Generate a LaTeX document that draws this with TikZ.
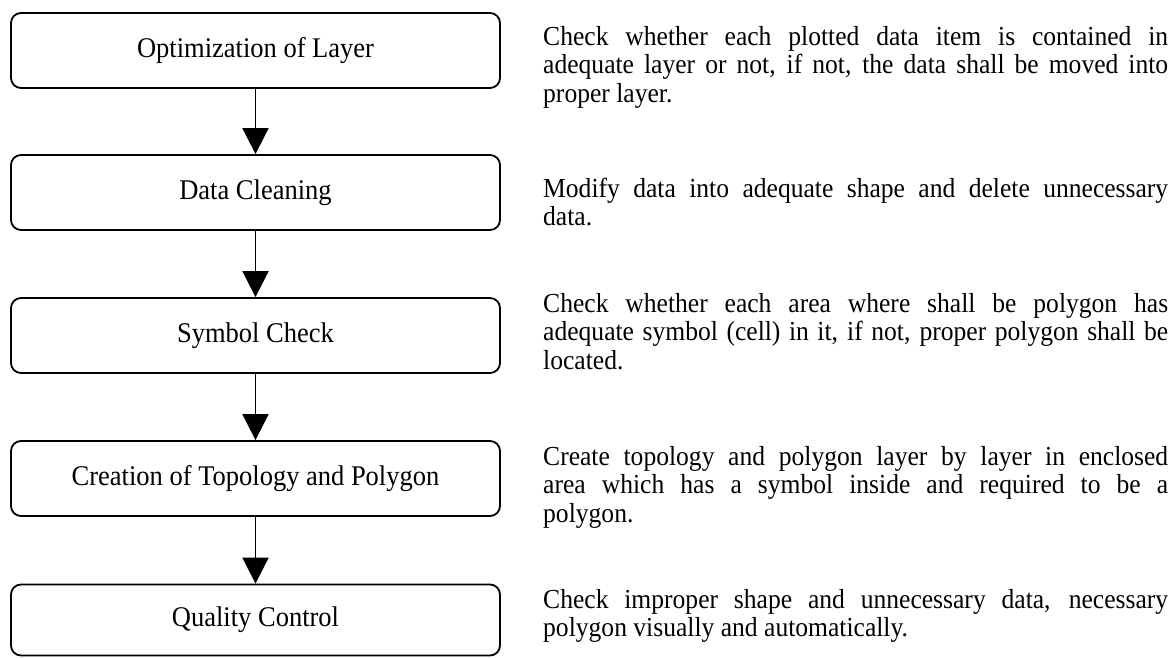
\documentclass[tikz,border=0pt]{standalone}
\usepackage{fontspec}
\setmainfont{Liberation Serif}[FakeStretch=0.93]
\usetikzlibrary{arrows.meta}

\tikzset{
  stepbox/.style={draw, line width=1.8pt, rounded corners=10pt,
    minimum width=489pt, minimum height=75pt, inner sep=0pt,
    font=\fontsize{28.5pt}{30pt}\selectfont},
  flow/.style={line width=1.8pt, -{Triangle[width=26pt,length=26pt]}},
  note/.style={anchor=base west, inner sep=0pt}
}
\newcommand{\notetext}[1]{\parbox[t]{625pt}{\fontsize{27.5pt}{28.5pt}\selectfont
  \hyphenpenalty=10000\tolerance=10000\rightskip=0pt #1}}

\begin{document}
\begin{tikzpicture}[x=1pt,y=-1pt]
  \useasboundingbox (0,0) rectangle (1176,657);

  % process steps
  \node[stepbox] (s1) at (255.5, 50.5)  {Optimization of Layer};
  \node[stepbox] (s2) at (255.5, 192.5) {Data Cleaning};
  \node[stepbox] (s3) at (255.5, 335.5) {Symbol Check};
  \node[stepbox] (s4) at (255.5, 478.5) {Creation of Topology and Polygon};
  \node[stepbox, minimum height=71pt] (s5) at (255.5, 620) {Quality Control};

  \draw[flow] (s1) -- (s2);
  \draw[flow] (s2) -- (s3);
  \draw[flow] (s3) -- (s4);
  \draw[flow] (s4) -- (s5);

  % descriptions
  \node[note] (d1) at (543, 45) {\notetext{Check whether each plotted data item is contained in\linebreak adequate layer or not, if not, the data shall be moved into\linebreak proper layer.}};
  \node[note] (d2) at (543, 197) {\notetext{Modify data into adequate shape and delete unnecessary\linebreak data.}};
  \node[note] (d3) at (543, 312) {\notetext{Check whether each area where shall be polygon has\linebreak adequate symbol (cell) in it, if not, proper polygon shall be\linebreak located.}};
  \node[note] (d4) at (543, 465) {\notetext{Create topology and polygon layer by layer in enclosed\linebreak area which has a symbol inside and required to be a\linebreak polygon.}};
  \node[note] (d5) at (543, 608) {\notetext{Check improper shape and unnecessary data, necessary\linebreak polygon visually and automatically.}};
\end{tikzpicture}
\end{document}
